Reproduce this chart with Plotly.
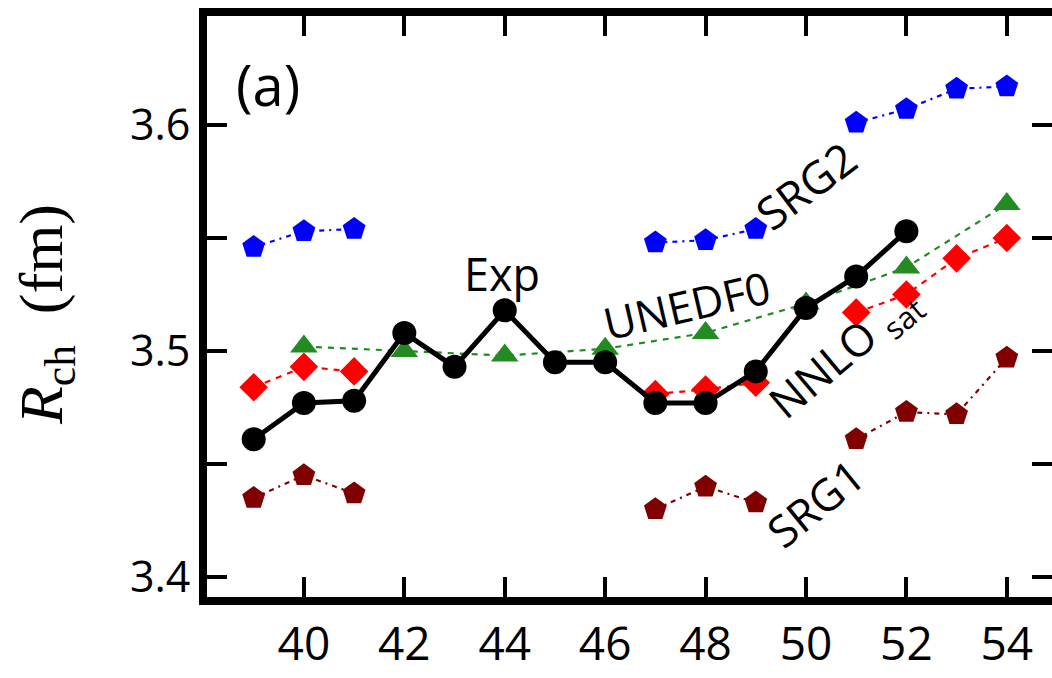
import plotly.graph_objects as go

N = list(range(39, 55))
exp_vals = [3.461, 3.477, 3.478, 3.508, 3.493, 3.518, 3.495, 3.495, 3.477, 3.477,
            3.491, 3.519, 3.533, 3.553, None, None]
N_unedf0 = [40, 42, 44, 46, 48, 50, 52, 54]
unedf0_vals = [3.502, 3.500, 3.498, 3.501, 3.508, 3.521, 3.537, 3.565]
nnlosat_vals = [3.484, 3.493, 3.491, None, None, None, None, None, 3.481, 3.483,
                3.486, None, 3.517, 3.525, 3.541, 3.550]
srg2_vals = [3.546, 3.553, 3.554, None, None, None, None, None, 3.548, 3.549,
             3.554, None, 3.601, 3.607, 3.616, 3.617]
srg1_vals = [3.435, 3.445, 3.437, None, None, None, None, None, 3.430, 3.440,
             3.433, None, 3.461, 3.473, 3.472, 3.497]

x_ticks = [40, 42, 44, 46, 48, 50, 52, 54]
y_ticks = [3.40, 3.45, 3.50, 3.55, 3.60]
y_ticktext = ["3.4", "", "3.5", "", "3.6"]

SANS = "Open Sans"
SERIF = "Liberation Serif"

DOM_L, DOM_R, DOM_T, DOM_B = 207, 1052, 16, 597   # plot area in page pixels
FIG_W, FIG_H = 1052, 678

fig = go.Figure()

fig.add_trace(go.Scatter(
    x=N, y=srg1_vals, mode="lines+markers", connectgaps=False,
    line=dict(color="#800000", width=2.2, dash="5px,5px,2px,5px"),
    marker=dict(symbol="pentagon", size=24, color="#800000"), name="SRG1"))
fig.add_trace(go.Scatter(
    x=N, y=srg2_vals, mode="lines+markers", connectgaps=False,
    line=dict(color="#0000ff", width=2.2, dash="5px,5px,2px,5px"),
    marker=dict(symbol="pentagon", size=24, color="#0000ff"), name="SRG2"))
fig.add_trace(go.Scatter(
    x=N_unedf0, y=unedf0_vals, mode="lines+markers",
    line=dict(color="#228b22", width=2.2, dash="6px,6px"),
    marker=dict(symbol="triangle-up", size=24, color="#228b22"), name="UNEDF0"))
fig.add_trace(go.Scatter(
    x=N, y=nnlosat_vals, mode="lines+markers", connectgaps=False,
    line=dict(color="#ff0000", width=2.2, dash="6px,6px"),
    marker=dict(symbol="diamond", size=22, color="#ff0000"), name="NNLOsat"))
fig.add_trace(go.Scatter(
    x=N, y=exp_vals, mode="lines+markers", connectgaps=False,
    line=dict(color="black", width=5),
    marker=dict(symbol="circle", size=24, color="black"), name="Exp"))

fig.update_layout(
    width=FIG_W, height=FIG_H,
    margin=dict(l=DOM_L, r=FIG_W - DOM_R, t=DOM_T, b=FIG_H - DOM_B, autoexpand=False),
    paper_bgcolor="white", plot_bgcolor="white",
    showlegend=False,
    xaxis=dict(range=[38.07, 54.9], tickvals=x_ticks, ticks="inside", ticklen=20,
               tickwidth=4, tickcolor="black", showline=True, linewidth=8,
               linecolor="black", mirror="ticks", showgrid=False, zeroline=False,
               tickfont=dict(family=SANS, size=46, color="black")),
    yaxis=dict(range=[3.3912, 3.6482], tickvals=y_ticks, ticktext=y_ticktext,
               ticks="inside", ticklen=20, tickwidth=4, tickcolor="black",
               showline=True, linewidth=8, linecolor="black", mirror="ticks",
               showgrid=False, zeroline=False,
               tickfont=dict(family=SANS, size=43, color="black")),
)

annos = [
    dict(text="(a)", x=268, y=84, size=56, angle=0, family=SANS),
    dict(text="Exp", x=502, y=273, size=45, angle=0, family=SANS),
    dict(text="UNEDF0", x=686, y=305, size=44, angle=-13, family=SANS),
    dict(text="SRG2", x=805, y=185, size=45, angle=-37, family=SANS),
    dict(text="NNLO <sub>sat</sub>", x=845, y=353, size=44, angle=-40, family=SANS),
    dict(text="SRG1", x=815, y=503, size=44, angle=-39, family=SANS),
    dict(text="<i>R</i><sub>ch</sub>  (fm)", x=45, y=315, size=62, angle=-90, family=SERIF),
]
for a in annos:
    fig.add_annotation(text=a["text"], xref="paper", yref="paper",
                       x=(a["x"] - DOM_L) / (DOM_R - DOM_L),
                       y=1 - (a["y"] - DOM_T) / (DOM_B - DOM_T),
                       xanchor="center", yanchor="middle", showarrow=False,
                       textangle=a["angle"],
                       font=dict(family=a["family"], size=a["size"], color="black"))

fig.write_html("out.html",
               config={"displayModeBar": False, "staticPlot": True},
               post_script="document.body.style.margin='0px';document.body.style.overflow='hidden';")
